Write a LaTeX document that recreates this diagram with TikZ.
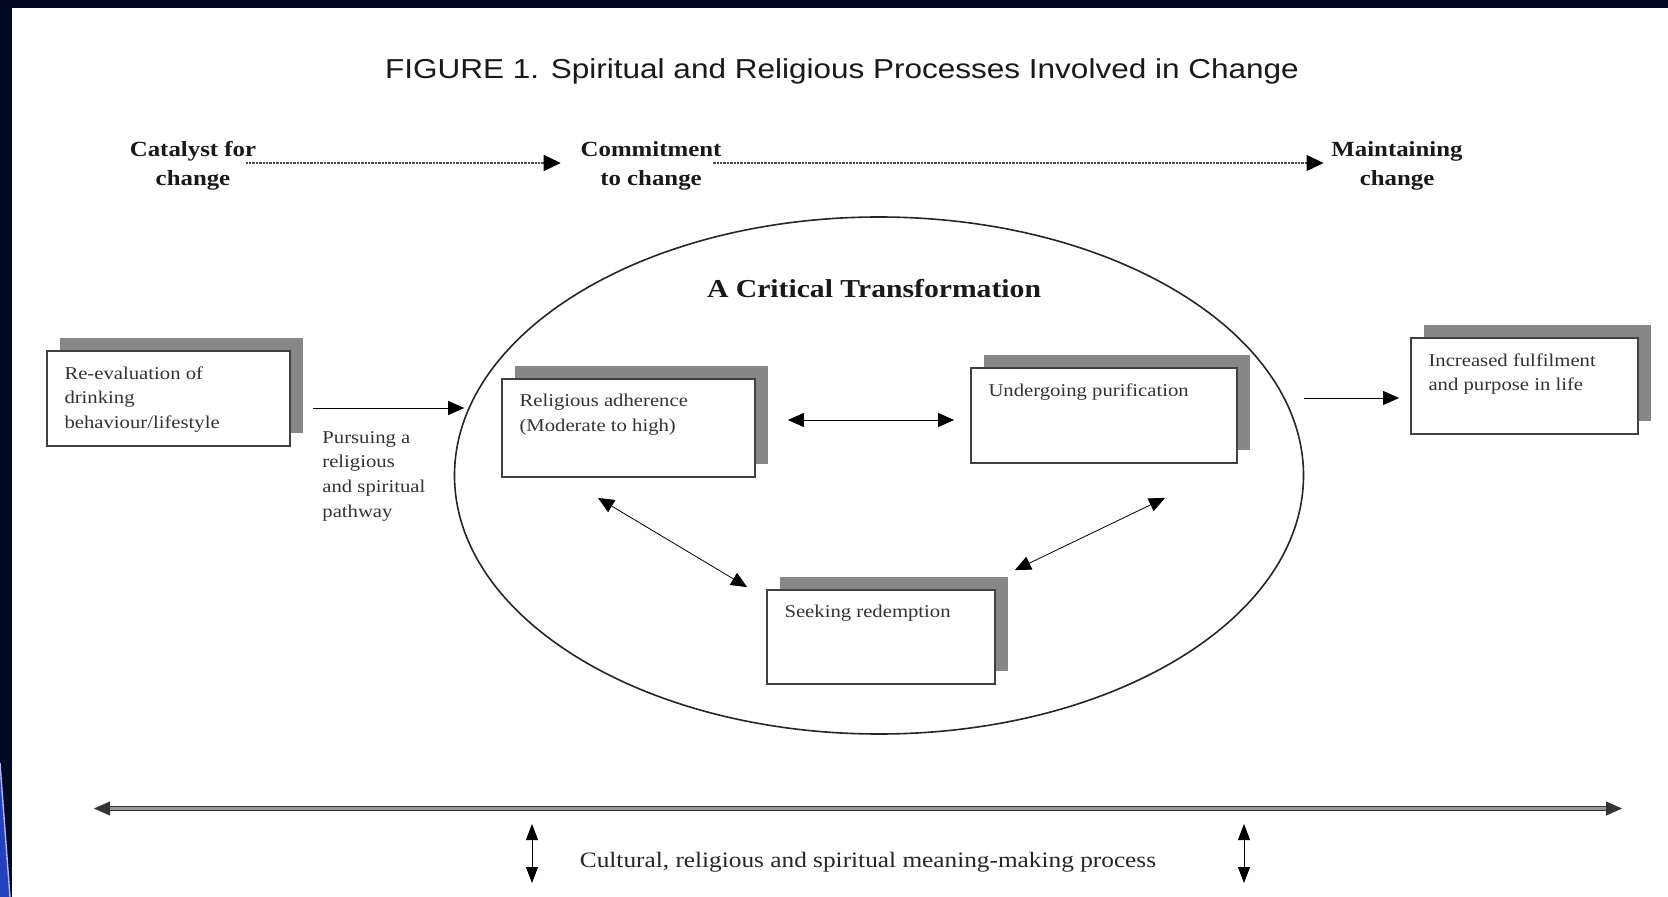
\documentclass[tikz,border=0pt]{standalone}
\usepackage{fontspec}
\setmainfont{Liberation Serif}[FakeStretch=1.15]
\newfontfamily\headfont{Liberation Sans}[FakeStretch=1.15]
\usetikzlibrary{arrows.meta,shapes.geometric,shadows}
\definecolor{navy}{RGB}{2,10,35}
\definecolor{streak}{RGB}{35,65,190}

\begin{document}
\begin{tikzpicture}
  [x=0.5pt,y=-0.5pt,every node/.style={inner sep=0pt},
   tip/.style={-{Triangle[length=8pt,width=7pt]}},
   both/.style={{Triangle[length=8pt,width=7pt]}-{Triangle[length=8pt,width=7pt]}},
   thin tip/.style={{Triangle[length=8pt,width=6pt]}-{Triangle[length=8pt,width=6pt]}},
   flow/.style={draw=black!70,line width=0.6pt,dash pattern=on 1.2pt off 0.5pt,
     -{Triangle[length=8.5pt,width=8pt,color=black]}},
   hd/.style={font=\fontsize{10.8}{14.4}\selectfont\bfseries,align=center,text=black!90},
   bt/.style={anchor=north west,align=left,font=\fontsize{9}{12.3}\selectfont,text=black!80},
   box/.style={draw=black!75,line width=0.9pt,fill=white,
     drop shadow={shadow xshift=6.3pt,shadow yshift=6.3pt,fill=black!47,opacity=1}}]
  \tikzstyle{band} = [draw=black!80,line width=0.5pt,double=black!40,double distance=1.2pt]

  % page and dark frame
  \fill[white] (0,0) rectangle (1668,897);
  \useasboundingbox (0,0) rectangle (1668,897);
  \fill[navy] (0,0) rectangle (1668,8);
  \fill[navy] (0,0) rectangle (12,897);
  \fill[streak] (0,763) -- (10,897) -- (0,897) -- cycle;
  \draw[white!70!blue,line width=0.7pt] (0,763) -- (10,897);

  \node[font=\headfont\fontsize{13.7}{16}\selectfont,text=black!90] (ttl) at (842,71)
    {FIGURE 1. Spiritual and Religious Processes Involved in Change};

  % stages along the top
  \node[hd] (h1) at (193,166) {Catalyst for\\change};
  \node[hd] (h2) at (651,166) {Commitment\\to change};
  \node[hd] (h3) at (1397,166) {Maintaining\\change};
  \draw[flow] ([xshift=-5.5pt,yshift=1.5pt]h1.east) -- ([xshift=-9.75pt,yshift=1.5pt]h2.west);
  \draw[flow] ([xshift=-4.25pt,yshift=1.5pt]h2.east) -- ([xshift=-3.75pt,yshift=1.5pt]h3.west);

  % the transformation
  \node[draw=black!85,line width=0.8pt,ellipse,minimum width=424.5pt,minimum height=258.5pt]
    (ct) at (879,475.5) {};
  \node[font=\fontsize{12.9}{15}\selectfont\bfseries,text=black!90] (ctt) at (874,289)
    {A Critical Transformation};

  \node[box,minimum width=121.5pt,minimum height=47.5pt] (b1) at (168.5,398.5) {};
  \node[box,minimum width=126.5pt,minimum height=49pt] (b2) at (628.5,428) {};
  \node[box,minimum width=133pt,minimum height=47.5pt] (b3) at (1104,415.5) {};
  \node[box,minimum width=114pt,minimum height=47pt] (b4) at (881,637) {};
  \node[box,minimum width=113.5pt,minimum height=48pt] (b5) at (1524.5,386) {};

  \node[bt] (t1) at ([xshift=9pt,yshift=-8pt]b1.north west) {Re-evaluation of\\drinking\\behaviour/lifestyle};
  \node[bt] (t2) at ([xshift=9pt,yshift=-8pt]b2.north west) {Religious adherence\\(Moderate to high)};
  \node[bt] (t3) at ([xshift=9pt,yshift=-8pt]b3.north west) {Undergoing purification};
  \node[bt] (t4) at ([xshift=9pt,yshift=-8pt]b4.north west) {Seeking redemption};
  \node[bt] (t5) at ([xshift=9pt,yshift=-8pt]b5.north west) {Increased fulfilment\\and purpose in life};
  \node[bt] (pw) at (322,431) {Pursuing a\\religious\\and spiritual\\pathway};

  \draw[tip] ([xshift=11pt,yshift=-4.75pt]b1.east) -- ([xshift=5.25pt,yshift=33.75pt]ct.west);
  \draw[tip] ([yshift=38.75pt]ct.east) -- ([xshift=-5.5pt,yshift=-6pt]b5.west);
  \draw[both] ([xshift=16pt,yshift=4pt]b2.east) -- ([xshift=-8pt,yshift=-2.25pt]b3.west);
  \draw[both] ([xshift=-15.25pt,yshift=-10pt]b2.south) -- ([xshift=-9.5pt,yshift=1pt]b4.north west);
  \draw[both] ([xshift=30.5pt,yshift=-17pt]b3.south) -- ([xshift=9.5pt,yshift=9.5pt]b4.north east);

  % meaning-making along the bottom
  \coordinate (l) at (94,808.5);
  \coordinate (r) at (1622,808.5);
  \draw[band,both] (l) -- (r);
  \node[font=\fontsize{11}{13}\selectfont,text=black!85] (mm) at (868,862)
    {Cultural, religious and spiritual meaning-making process};
\foreach \x/\n in {532/a,1244/b} {
   \coordinate (\n1) at (\x,824);
   \coordinate (\n2) at (\x,883);
   \draw[thin tip] (\n1) -- (\n2);
}

\end{tikzpicture}
\end{document}
